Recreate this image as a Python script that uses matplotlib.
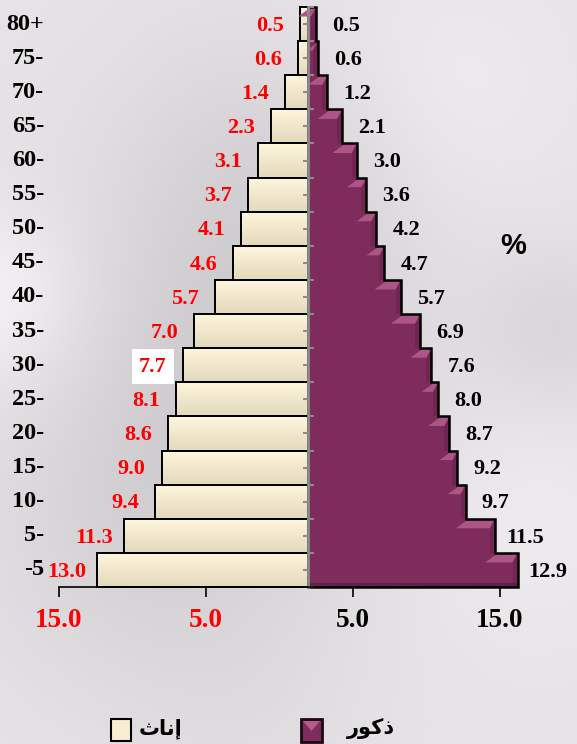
import matplotlib
matplotlib.use("Agg")
import matplotlib.pyplot as plt
import numpy as np
from matplotlib.patches import Rectangle, Polygon

# data (bottom row first)
ages = ['-5', '5-', '10-', '15-', '20-', '25-', '30-', '35-', '40-', '45-',
        '50-', '55-', '60-', '65-', '70-', '75-', '80+']
females = [13.0, 11.3, 9.4, 9.0, 8.6, 8.1, 7.7, 7.0, 5.7, 4.6, 4.1, 3.7, 3.1, 2.3, 1.4, 0.6, 0.5]
males = [12.9, 11.5, 9.7, 9.2, 8.7, 8.0, 7.6, 6.9, 5.7, 4.7, 4.2, 3.6, 3.0, 2.1, 1.2, 0.6, 0.5]
xticks = [-15, -5, 5, 15]
xtick_labels = ['15.0', '5.0', '5.0', '15.0']
legend_f = '\uFE99\uFE8E\uFEE7\uFE87'   # إناث (shaped, visual order)
legend_m = '\uFEAD\uFEEE\uFEDB\uFEAB'   # ذكور (shaped, visual order)

W, H = 577, 744
PX = 16.25          # pixels per percent
X0 = 308            # centre line, px
TOP, BOT = 7, 587   # rows area, px
n = len(ages)
ROW = (BOT - TOP) / n

serif = 'Liberation Serif'
cream = '#f8eed3'
purple = '#7e2c5b'

fig = plt.figure(figsize=(W / 100, H / 100), dpi=100)

# background, soft grey with blotches
bg = fig.add_axes([0, 0, 1, 1])
yy, xx = np.mgrid[0:H, 0:W]
val = np.full((H, W), 0.905)
for cx, cy, r, a in [(230, 400, 130, -0.08), (260, 180, 110, -0.06), (120, 560, 110, -0.04),
                     (560, 330, 60, -0.05), (440, 90, 90, 0.03), (0, 300, 60, 0.06),
                     (520, 520, 90, 0.03), (250, 700, 90, -0.02)]:
    val += a * np.exp(-((xx - cx) ** 2 + (yy - cy) ** 2) / (2 * r ** 2))
val = np.clip(val, 0, 1)
img = np.dstack([val, val * 0.985, val])
bg.imshow(img, aspect='auto', extent=(0, 1, 0, 1))
bg.axis('off')

ax = fig.add_axes([0, 0, 1, 1])
ax.patch.set_alpha(0)
ax.axis('off')
xlim = (-X0 / PX, (W - X0) / PX)
ylim = (-(H - BOT) / ROW, n + TOP / ROW)

y = np.arange(n)

# female bars with vertical gradient
grad = np.linspace(0, 1, 50).reshape(-1, 1)
top_c = np.array([1.0, 0.965, 0.875])
bot_c = np.array([0.89, 0.85, 0.73])
gimg = top_c * (1 - grad[..., None]) + bot_c * grad[..., None]
bars_f = ax.barh(y, [-v for v in females], height=1, align='edge', color=cream,
                 edgecolor='black', linewidth=1.4, zorder=2)
for b, v, i in zip(bars_f, females, y):
    im = ax.imshow(gimg, extent=(-v, 0, i, i + 1), aspect='auto', zorder=2.1)
    im.set_clip_path(b)
ax.barh(y, [-v for v in females], height=1, align='edge', facecolor='none',
        edgecolor='black', linewidth=1.4, zorder=2.2)

# male bars
ax.barh(y, males, height=1, align='edge', color=purple, edgecolor='none', zorder=2)
bx = 5 / PX
bh = 0.28
for i, v in enumerate(males):
    prev = males[i + 1] if i + 1 < n else 0
    # dark strip along right edge
    ax.add_patch(Rectangle((v - bx, i), bx, 1, color='#5f1f44', alpha=0.45, lw=0, zorder=2.3))
    if prev < v - 0.05:
        ax.add_patch(Polygon([(prev + 0.2, i + 1), (v, i + 1), (v - bx, i + 1 - bh),
                              (prev - 0.6, i + 1 - bh)], closed=True,
                             color='#ad5586', lw=0, zorder=2.4))
ax.add_patch(Rectangle((0, 0), males[0], 0.12, color='#5a1c40', alpha=0.7, lw=0, zorder=2.3))

# black outline along male profile
ox, oy = [0], [n]
for i in range(n - 1, -1, -1):
    ox += [males[i], males[i]]
    oy += [i + 1, i]
ox.append(0)
oy.append(0)
ax.plot(ox, oy, color='black', lw=1.8, zorder=3, solid_joinstyle='miter')

# centre axis with ticks
ax.plot([0, 0], [0, n], color='#8c8c8c', lw=2.0, zorder=3.5)
ax.hlines(np.arange(n + 1), 0, 6 / PX, color='#8c8c8c', lw=1.5, zorder=3.5)
ax.hlines(y + 0.5, -5 / PX, 0, color='#8c8c8c', lw=1.5, zorder=3.5)

# labels
for i, lab in enumerate(ages):
    ax.text((44 - X0) / PX, i + 0.5, lab, ha='right', va='center', fontsize=17.5,
            fontweight='bold', family=serif, color='black')
for i, v in enumerate(females):
    kw = {}
    if v == 7.7:
        kw['bbox'] = dict(facecolor='white', edgecolor='none', boxstyle='square,pad=0.34')
    ax.text(-v - 30 / PX, i + 0.45, f'{v:.1f}', ha='center', va='center', fontsize=16,
            fontweight='bold', family=serif, color='#ff0000', **kw)
for i, v in enumerate(males):
    ax.text(v + 30 / PX, i + 0.45, f'{v:.1f}', ha='center', va='center', fontsize=16,
            fontweight='bold', family=serif, color='black')

ax.text((513 - X0) / PX, n - (246 - TOP) / ROW, '%', ha='center', va='center',
        fontsize=21, fontweight='bold', family='Liberation Sans')
ax.set_xlim(xlim)
ax.set_ylim(ylim)

# bottom scale
ax2 = fig.add_axes([59 / W, (H - BOT) / H, 441 / W, 0.0001])
ax2.patch.set_alpha(0)
for s in ['top', 'left', 'right']:
    ax2.spines[s].set_visible(False)
ax2.spines['bottom'].set_linewidth(1.2)
ax2.set_xlim(-15, 15)
ax2.set_yticks([])
ax2.set_xticks(xticks)
ax2.set_xticklabels(xtick_labels, fontsize=19.5, fontweight='bold', family=serif)
ax2.tick_params(axis='x', length=7, width=1.2, pad=8)
for t, c in zip(ax2.get_xticklabels(), ['#ff0000', '#ff0000', 'black', 'black']):
    t.set_color(c)

# legend
def fig_rect(x, ytop, w, h, **kw):
    fig.add_artist(Rectangle((x / W, (H - ytop - h) / H), w / W, h / H,
                             transform=fig.transFigure, **kw))

fig_rect(111, 719, 20, 22, facecolor='#f7edd0', edgecolor='black', lw=1.5)
fig_rect(301, 719, 21, 23, facecolor=purple, edgecolor='#1a0a12', lw=2)
fig.add_artist(Polygon([((303) / W, (H - 721) / H), (320 / W, (H - 721) / H),
                        (311.5 / W, (H - 731) / H)], closed=True, color='#b45d8d',
                       lw=0, transform=fig.transFigure))
fig.text(139 / W, (H - 729) / H, legend_f, ha='left', va='center', fontsize=15,
         fontweight='bold', family='DejaVu Sans')
fig.text(347 / W, (H - 729) / H, legend_m, ha='left', va='center', fontsize=15,
         fontweight='bold', family='DejaVu Sans')

fig.savefig('out.png', dpi=100)
